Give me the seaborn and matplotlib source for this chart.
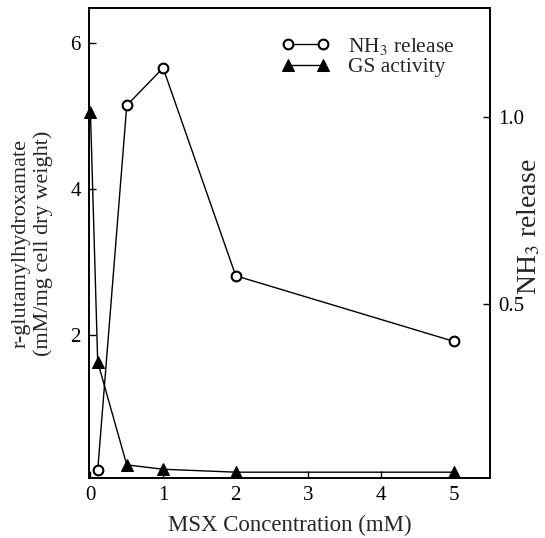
import matplotlib
matplotlib.use("Agg")
import matplotlib.pyplot as plt
import seaborn as sns

# NH3 release (right axis)
msx_nh3 = [0.1, 0.5, 1, 2, 5]
nh3_release = [0.056, 1.03, 1.13, 0.575, 0.40]

# GS activity (left axis)
msx_gs = [0, 0.1, 0.5, 1, 2, 5]
gs_activity = [5.05, 1.63, 0.22, 0.16, 0.12, 0.12]

x_ticks = [0, 1, 2, 3, 4, 5]
left_ticks = [2, 4, 6]
right_ticks = [0.5, 1.0]
right_tick_labels = ["0.5", "1.0"]

sns.set_style("ticks")
plt.rcParams["font.family"] = ["Liberation Serif", "DejaVu Serif"]
plt.rcParams["mathtext.fontset"] = "stix"

fig = plt.figure(figsize=(5.45, 5.38), dpi=100)
ax = fig.add_axes([0.1633, 0.1115, 0.7358, 0.8736])
ax2 = ax.twinx()

sns.lineplot(x=msx_gs, y=gs_activity, ax=ax, color="black", linewidth=1,
             marker="^", markersize=8.5, markerfacecolor="black",
             markeredgecolor="black", legend=False, clip_on=False)
sns.lineplot(x=msx_nh3, y=nh3_release, ax=ax2, color="black", linewidth=1,
             marker="o", markersize=7, markerfacecolor="white",
             markeredgecolor="black", markeredgewidth=1.5, legend=False,
             clip_on=False)

ax.set_xlim(-0.02, 5.5)
ax.set_ylim(0.04, 6.48)
ax2.set_ylim(0.035, 1.29)

ax.set_xticks(x_ticks)
ax.set_yticks(left_ticks)
ax2.set_yticks(right_ticks)
ax2.set_yticklabels(right_tick_labels)

for a in (ax, ax2):
    a.tick_params(direction="in", length=5, width=1, labelsize=15,
                  colors="black", pad=6)
    for s in a.spines.values():
        s.set_visible(True)
        s.set_linewidth(1.2)
        s.set_color("black")

ax.set_xlabel("MSX Concentration (mM)", fontsize=16.5, labelpad=7)
ax.set_ylabel("r-glutamylhydroxamate\n(mM/mg cell dry weight)", fontsize=16,
              linespacing=1.15)
ax.yaxis.set_label_coords(-0.09, 0.5)
ax2.set_ylabel("NH$_3$ release", fontsize=20)
ax2.yaxis.set_label_coords(1.065, 0.534)

handles = [ax2.lines[0], ax.lines[0]]
labels = ["NH$_3$ release", "GS activity"]
ax2.legend(handles, labels, loc="upper left", numpoints=2, frameon=False,
           fontsize=15.5, handlelength=2.2, handletextpad=0.85, labelspacing=0.0,
           borderpad=0, borderaxespad=0,
           bbox_to_anchor=(282 / 545, 1 - 36 / 538),
           bbox_transform=fig.transFigure)

fig.savefig("out.png", dpi=100)
